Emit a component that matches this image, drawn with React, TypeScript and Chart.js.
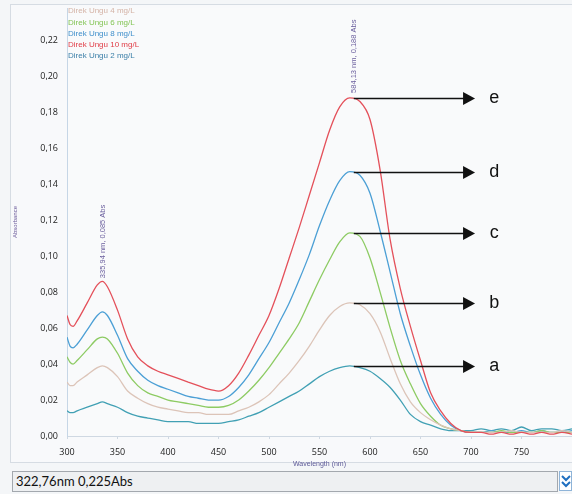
import React, { useEffect, useRef } from "react";
import { Chart, registerables } from "chart.js";

Chart.register(...registerables);

// Wavelengths (nm)
const wavelengths = [
  300, 303, 306, 310, 320, 330, 335, 340, 350, 360, 370, 380, 390, 400, 410, 420, 430, 440, 450,
  460, 470, 480, 490, 500, 510, 520, 530, 540, 550, 560, 570, 580, 590, 600, 610, 620, 630, 640,
  650, 660, 670, 680, 690, 700, 710, 720, 730, 740, 750, 760, 770, 780, 790, 800,
];

const abs4 = [
  0.030, 0.028, 0.028, 0.030, 0.034, 0.038, 0.039, 0.038, 0.033, 0.025, 0.021, 0.018, 0.016, 0.015,
  0.014, 0.013, 0.013, 0.012, 0.012, 0.012, 0.014, 0.016, 0.019, 0.023, 0.029, 0.035, 0.042, 0.050,
  0.059, 0.067, 0.072, 0.074, 0.073, 0.068, 0.058, 0.043, 0.029, 0.019, 0.013, 0.009, 0.006, 0.004,
  0.003, 0.002, 0.002, 0.002, 0.002, 0.003, 0.002, 0.002, 0.002, 0.002, 0.003, 0.002,
];
const abs6 = [
  0.044, 0.041, 0.040, 0.042, 0.048, 0.054, 0.055, 0.054, 0.046, 0.035, 0.028, 0.024, 0.022, 0.020,
  0.019, 0.018, 0.017, 0.016, 0.016, 0.017, 0.020, 0.025, 0.031, 0.038, 0.046, 0.054, 0.063, 0.075,
  0.087, 0.098, 0.108, 0.113, 0.111, 0.099, 0.080, 0.060, 0.042, 0.029, 0.018, 0.011, 0.006, 0.004,
  0.003, 0.002, 0.002, 0.002, 0.003, 0.002, 0.002, 0.002, 0.003, 0.002, 0.002, 0.002,
];
const abs8 = [
  0.055, 0.050, 0.049, 0.051, 0.059, 0.067, 0.069, 0.067, 0.056, 0.043, 0.036, 0.031, 0.028, 0.026,
  0.024, 0.022, 0.021, 0.020, 0.020, 0.022, 0.027, 0.034, 0.043, 0.052, 0.063, 0.074, 0.087, 0.101,
  0.117, 0.131, 0.142, 0.147, 0.145, 0.135, 0.114, 0.091, 0.068, 0.050, 0.034, 0.021, 0.012, 0.006,
  0.003, 0.002, 0.002, 0.003, 0.002, 0.002, 0.003, 0.002, 0.003, 0.002, 0.002, 0.003,
];
const abs10 = [
  0.067, 0.062, 0.061, 0.064, 0.074, 0.084, 0.086, 0.083, 0.070, 0.054, 0.044, 0.039, 0.036, 0.034,
  0.032, 0.030, 0.028, 0.026, 0.025, 0.028, 0.035, 0.045, 0.056, 0.067, 0.082, 0.099, 0.116, 0.134,
  0.152, 0.170, 0.183, 0.188, 0.186, 0.176, 0.148, 0.109, 0.082, 0.061, 0.042, 0.024, 0.014, 0.007,
  0.003, 0.002, 0.002, 0.001, 0.002, 0.001, 0.002, 0.001, 0.002, 0.001, 0.002, 0.001,
];
const abs2 = [
  0.014, 0.013, 0.013, 0.014, 0.016, 0.018, 0.019, 0.018, 0.016, 0.013, 0.011, 0.010, 0.009, 0.008,
  0.008, 0.008, 0.007, 0.007, 0.007, 0.008, 0.009, 0.011, 0.013, 0.016, 0.019, 0.022, 0.025, 0.029,
  0.033, 0.036, 0.038, 0.039, 0.038, 0.036, 0.032, 0.027, 0.020, 0.012, 0.008, 0.006, 0.004, 0.003,
  0.003, 0.003, 0.004, 0.003, 0.004, 0.003, 0.005, 0.003, 0.004, 0.004, 0.003, 0.004,
];

const seriesLabels = [
  "Direk Ungu 4 mg/L",
  "Direk Ungu 6 mg/L",
  "Direk Ungu 8 mg/L",
  "Direk Ungu 10 mg/L",
  "Direk Ungu 2 mg/L",
];
const seriesValues = [abs4, abs6, abs8, abs10, abs2];
const lineColors = ["#dcc4b8", "#8dcb63", "#4b9fd5", "#e4505a", "#41a0b4"];
const legendColors = ["#d4b3a6", "#84c556", "#3f8fcb", "#e03c46", "#3b7fa8"];

const yTickValues = [0, 0.02, 0.04, 0.06, 0.08, 0.1, 0.12, 0.14, 0.16, 0.18, 0.2, 0.22];
const xTickHidden = [800];

// Peak annotations (rotated)
const peakNm = [335.94, 584.13];
const peakAbs = [0.085, 0.188];
const peakText = ["335,94 nm, 0,085 Abs", "584,13 nm, 0,188 Abs"];

// Arrow annotations
const arrowLetters = ["a", "b", "c", "d", "e"];
const arrowAbs = [0.039, 0.074, 0.113, 0.147, 0.188];
const arrowStartNm = 584;
const arrowEndNm = 704;
const arrowLetterNm = 723;

const fmt = (v: number) => v.toFixed(2).replace(".", ",");

const overlayPlugin = {
  id: "overlay",
  beforeDraw(chart: any) {
    const { ctx, chartArea } = chart;
    ctx.save();
    ctx.fillStyle = "#f4f6f8";
    ctx.fillRect(0, 0, chart.width, chart.height);
    ctx.fillStyle = "#f8f9fb";
    ctx.fillRect(10, 4, chart.width - 10, 458);
    ctx.strokeStyle = "#d6dce3";
    ctx.lineWidth = 1;
    ctx.strokeRect(10.5, 4.5, chart.width - 10, 458);
    ctx.fillStyle = "#f9fafb";
    ctx.fillRect(chartArea.left, chartArea.top, chartArea.right - chartArea.left, chartArea.bottom - chartArea.top);
    ctx.restore();
  },
  afterDatasetsDraw(chart: any) {
    const { ctx, chartArea } = chart;
    const xs = chart.scales.x;
    const ys = chart.scales.y;
    ctx.save();
    // legend (text only)
    ctx.font = "8px 'Liberation Sans', Arial, sans-serif";
    ctx.textAlign = "left";
    ctx.textBaseline = "middle";
    seriesLabels.forEach((t, i) => {
      ctx.fillStyle = legendColors[i];
      ctx.fillText(t, chartArea.left + 1, chartArea.top + 3 + i * 11.3);
    });
    // rotated peak labels
    ctx.font = "7.5px 'Liberation Sans', Arial, sans-serif";
    ctx.fillStyle = "#6b5f9e";
    peakText.forEach((t, i) => {
      const x = xs.getPixelForValue(peakNm[i]);
      const y = ys.getPixelForValue(peakAbs[i]) - 5;
      ctx.save();
      ctx.translate(x, y);
      ctx.rotate(-Math.PI / 2);
      ctx.textAlign = "left";
      ctx.textBaseline = "middle";
      ctx.fillText(t, 0, 0);
      ctx.restore();
    });
    // arrows
    ctx.strokeStyle = "#111";
    ctx.fillStyle = "#111";
    ctx.lineWidth = 1.3;
    const x0 = xs.getPixelForValue(arrowStartNm);
    const x1 = xs.getPixelForValue(arrowEndNm);
    const xl = xs.getPixelForValue(arrowLetterNm);
    arrowLetters.forEach((L, i) => {
      const y = Math.round(ys.getPixelForValue(arrowAbs[i])) + 0.5;
      ctx.beginPath();
      ctx.moveTo(x0, y);
      ctx.lineTo(x1 - 10, y);
      ctx.stroke();
      ctx.beginPath();
      ctx.moveTo(x1 - 12, y - 6.5);
      ctx.lineTo(x1, y);
      ctx.lineTo(x1 - 12, y + 6.5);
      ctx.closePath();
      ctx.fill();
      ctx.font = "18px 'Liberation Sans', Arial, sans-serif";
      ctx.textAlign = "center";
      ctx.textBaseline = "middle";
      ctx.fillText(L, xl, y);
    });
    ctx.restore();
  },
};

export default function App() {
  const ref = useRef<HTMLCanvasElement>(null);

  useEffect(() => {
    if (!ref.current) return;
    const datasets = seriesLabels.map((label, i) => ({
      label,
      data: wavelengths.map((w, j) => ({ x: w, y: seriesValues[i][j] })),
      borderColor: lineColors[i],
      backgroundColor: lineColors[i],
      borderWidth: 1.3,
      pointRadius: 0,
      cubicInterpolationMode: "monotone" as const,
      fill: false,
      order: i === 3 ? 0 : 1,
    }));
    const chart = new Chart(ref.current, {
      type: "line",
      data: { datasets },
      plugins: [overlayPlugin],
      options: {
        animation: false,
        responsive: false,
        devicePixelRatio: 1,
        layout: { padding: { top: 8, right: 0, left: 0, bottom: 0 } },
        plugins: { legend: { display: false }, tooltip: { enabled: false } },
        scales: {
          x: {
            type: "linear",
            min: 300,
            max: 800,
            afterFit: (s: any) => {
              s.height = 34;
              s.paddingRight = 0;
              s.paddingLeft = 0;
            },
            ticks: {
              stepSize: 50,
              autoSkip: false,
              maxRotation: 0,
              padding: 8,
              color: "#222",
              font: { size: 9, family: "'Open Sans', sans-serif" },
              callback: (v: any) => (xTickHidden.includes(Number(v)) ? "" : String(v)),
            },
            grid: { display: true, drawOnChartArea: false, drawTicks: true, tickLength: 3, color: "#cfd8e2" },
            border: { display: true, color: "#cfd8e2" },
            title: {
              display: true,
              text: "Wavelength (nm)",
              color: "#5d5a98",
              font: { size: 7, family: "'Liberation Sans', Arial, sans-serif" },
              padding: { top: 0, bottom: 2 },
            },
          },
          y: {
            type: "linear",
            min: 0,
            max: 0.238,
            afterFit: (s: any) => {
              s.width = 67;
              s.paddingTop = 0;
              s.paddingBottom = 0;
            },
            afterBuildTicks: (axis: any) => {
              axis.ticks = yTickValues.map((v) => ({ value: v }));
            },
            ticks: {
              padding: 9,
              color: "#222",
              font: { size: 9, family: "'Open Sans', sans-serif" },
              callback: (v: any) => fmt(Number(v)),
            },
            grid: { display: false, drawTicks: false },
            border: { display: true, color: "#c6d6e6" },
            title: {
              display: true,
              text: "Absorbance",
              color: "#6a5a9a",
              font: { size: 6, family: "'Liberation Sans', Arial, sans-serif" },
              padding: { top: 12, bottom: 0 },
            },
          },
        },
      },
    });
    return () => chart.destroy();
  }, []);

  return (
    <div
      style={{
        position: "fixed",
        left: 0,
        top: 0,
        width: 572,
        height: 494,
        background: "#f4f6f8",
        overflow: "hidden",
      }}
    >
      <canvas ref={ref} width={572} height={470} style={{ display: "block", width: 572, height: 470 }} />
      <div
        style={{
          position: "absolute",
          left: 12,
          top: 471,
          width: 541,
          height: 19,
          border: "1px solid #a3a8ae",
          background: "#eef0f2",
          fontFamily: "Lato, 'Liberation Sans', sans-serif",
          fontSize: 13,
          lineHeight: "19px",
          paddingLeft: 3,
          boxSizing: "content-box",
          color: "#111",
        }}
      >
        322,76nm 0,225Abs
      </div>
      <div
        style={{
          position: "absolute",
          left: 559,
          top: 471,
          width: 13,
          height: 20,
          border: "1px solid #8fb4d8",
          background: "#ffffff",
          boxSizing: "border-box",
        }}
      >
        <svg width="12" height="18" viewBox="0 0 12 18">
          <polyline points="2,4 6,8 10,4" fill="none" stroke="#1f6fc0" strokeWidth="2" />
          <polyline points="2,10 6,14 10,10" fill="none" stroke="#1f6fc0" strokeWidth="2" />
        </svg>
      </div>
    </div>
  );
}
